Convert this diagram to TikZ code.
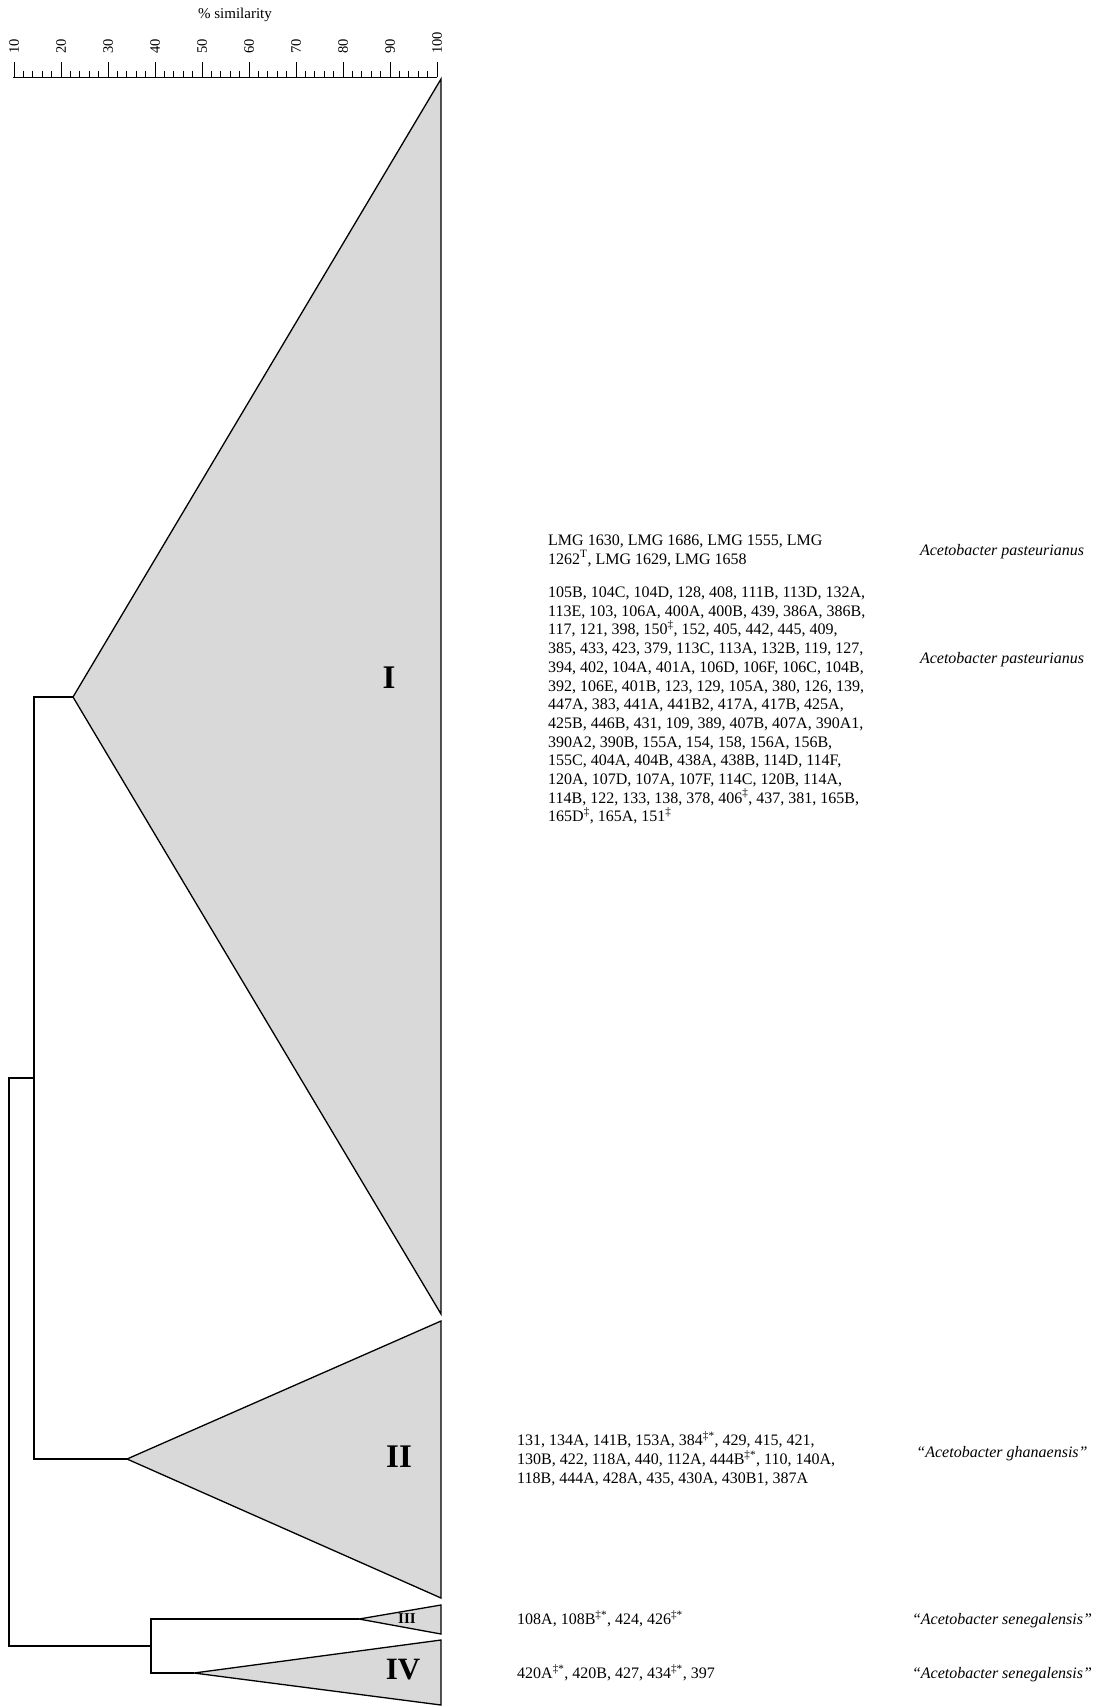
\documentclass[tikz,border=0pt]{standalone}
\usepackage{fontspec}
\setmainfont{Liberation Serif}
\definecolor{trifill}{RGB}{217,217,217}
\begin{document}
\begin{tikzpicture}[x=1pt,y=-1pt,
  tri/.style={draw=black, fill=trifill, line width=1.3pt, line join=miter},
  conn/.style={draw=black, line width=1.3pt},
  axisline/.style={draw=black, line width=0.9pt},
  lbl/.style={font=\fontsize{16}{18.7}\selectfont, inner sep=0pt},
  species/.style={font=\fontsize{16}{18.7}\selectfont\itshape, inner sep=0pt, anchor=base},
  roman/.style={font=\fontsize{33}{33}\selectfont\bfseries, inner sep=0pt},
  ticklbl/.style={font=\fontsize{14.5}{15}\selectfont, rotate=90, anchor=west, inner sep=0pt}]
\useasboundingbox (0,0) rectangle (1101,1707);
% axis
\node[font=\fontsize{15}{15}\selectfont, inner sep=0pt] (axtitle) at (235,15) {\% similarity};
\draw[axisline] (13,77) -- (437,77);
\foreach \p in {12,14,...,98} \draw[axisline] ({14+(\p-10)*4.7},71) -- ({14+(\p-10)*4.7},77);
\foreach \p in {10,20,...,100} {
  \draw[axisline] ({14+(\p-10)*4.7},62) -- ({14+(\p-10)*4.7},77);
  \node[ticklbl] (t\p) at ({14+(\p-10)*4.7},54) {\p};
}
% clusters
\coordinate (aI) at (73,697);   \coordinate (tI) at (441,79);    \coordinate (bI) at (441,1314);
\coordinate (aII) at (127,1459); \coordinate (tII) at (441,1321); \coordinate (bII) at (441,1598);
\coordinate (aIII) at (359,1619); \coordinate (tIII) at (441,1605); \coordinate (bIII) at (441,1634);
\coordinate (aIV) at (194,1673); \coordinate (tIV) at (441,1640); \coordinate (bIV) at (441,1705);
\coordinate (j12) at (34,1078);
\coordinate (r) at (9,1362);
\coordinate (j34) at (151,1646);
\filldraw[tri] (aI) -- (tI) -- (bI) -- cycle;
\filldraw[tri] (aII) -- (tII) -- (bII) -- cycle;
\filldraw[tri] (aIII) -- (tIII) -- (bIII) -- cycle;
\filldraw[tri] (aIV) -- (tIV) -- (bIV) -- cycle;
\draw[conn] (aI) -| (j12) |- (aII);
\draw[conn] (j12) -| (r) |- (j34);
\draw[conn] (aIII) -| (j34) |- (aIV);
% roman labels
\node[roman] (nI) at (389,678) {I};
\node[roman] (nII) at (399,1457) {II};
\node[font=\fontsize{15}{15}\selectfont\bfseries, inner sep=0pt] (nIII) at (407,1619) {III};
\node[font=\fontsize{31}{31}\selectfont\bfseries, inner sep=0pt] (nIV) at (403,1670) {IV};
% strain lists
\node[lbl, anchor=north west, align=left] (lmg) at (548,534.5)
 {LMG 1630, LMG 1686, LMG 1555, LMG\\1262\textsuperscript{T}, LMG 1629, LMG 1658};
\node[lbl, anchor=north west, align=left] (listI) at (548,586.7)
 {105B, 104C, 104D, 128, 408, 111B, 113D, 132A,\\
  113E, 103, 106A, 400A, 400B, 439, 386A, 386B,\\
  117, 121, 398, 150\textsuperscript{‡}, 152, 405, 442, 445, 409,\\
  385, 433, 423, 379, 113C, 113A, 132B, 119, 127,\\
  394, 402, 104A, 401A, 106D, 106F, 106C, 104B,\\
  392, 106E, 401B, 123, 129, 105A, 380, 126, 139,\\
  447A, 383, 441A, 441B2, 417A, 417B, 425A,\\
  425B, 446B, 431, 109, 389, 407B, 407A, 390A1,\\
  390A2, 390B, 155A, 154, 158, 156A, 156B,\\
  155C, 404A, 404B, 438A, 438B, 114D, 114F,\\
  120A, 107D, 107A, 107F, 114C, 120B, 114A,\\
  114B, 122, 133, 138, 378, 406\textsuperscript{‡}, 437, 381, 165B,\\
  165D\textsuperscript{‡}, 165A, 151\textsuperscript{‡}};
\node[lbl, anchor=north west, align=left] (listII) at (517,1431.7)
 {131, 134A, 141B, 153A, 384\textsuperscript{‡*}, 429, 415, 421,\\
  130B, 422, 118A, 440, 112A, 444B\textsuperscript{‡*}, 110, 140A,\\
  118B, 444A, 428A, 435, 430A, 430B1, 387A};
\node[lbl, anchor=base west] (listIII) at (517,1624.3)
 {108A, 108B\textsuperscript{‡*}, 424, 426\textsuperscript{‡*}};
\node[lbl, anchor=base west] (listIV) at (517,1678.3)
 {420A\textsuperscript{‡*}, 420B, 427, 434\textsuperscript{‡*}, 397};
% species
\node[species] (sp1) at (1002,555) {Acetobacter pasteurianus};
\node[species] (sp2) at (1002,663) {Acetobacter pasteurianus};
\node[species] (sp3) at (1002,1457) {``Acetobacter ghanaensis''};
\node[species] (sp4) at (1002,1624) {``Acetobacter senegalensis''};
\node[species] (sp5) at (1002,1678) {``Acetobacter senegalensis''};
\end{tikzpicture}
\end{document}
